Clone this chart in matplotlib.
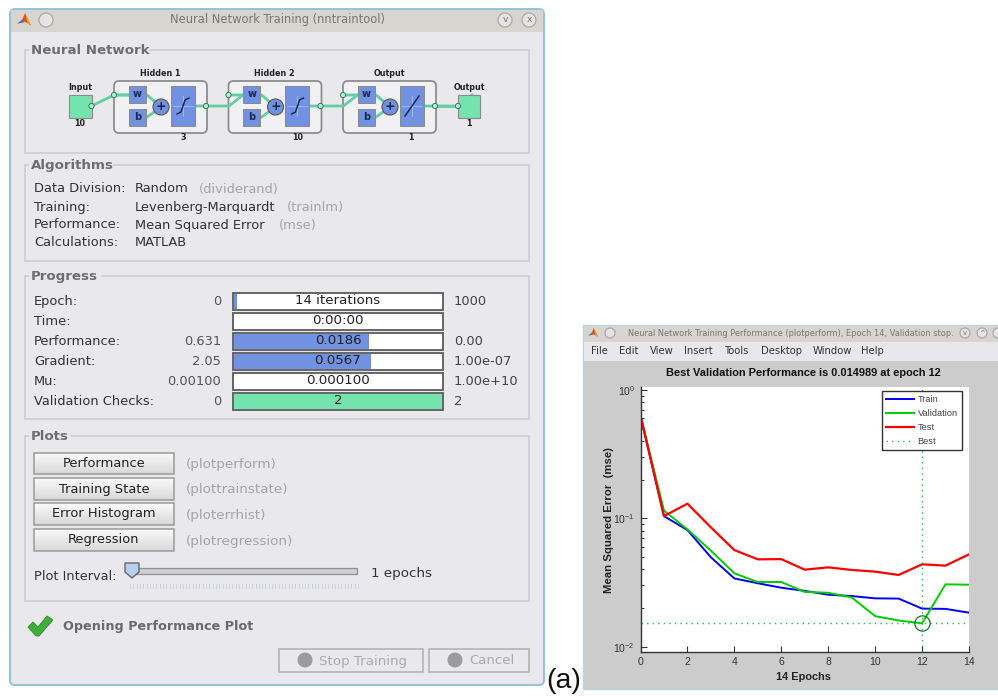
"""Two MATLAB nntool windows: the training dialog and the performance plot."""

import numpy as np
import matplotlib
matplotlib.use("Agg")
import matplotlib.pyplot as plt
from matplotlib.patches import Rectangle, FancyBboxPatch, Circle, Polygon

# performance plot values
epochs = list(range(15))
train_mse = [0.631, 0.104, 0.081, 0.0497, 0.034, 0.0312, 0.0288, 0.0272, 0.0254, 0.0248, 0.0238, 0.0237, 0.0198, 0.0197, 0.0184]
val_mse = [0.631, 0.115, 0.082, 0.056, 0.0373, 0.0319, 0.0319, 0.0267, 0.0263, 0.0242, 0.0173, 0.016, 0.0152, 0.0306, 0.0304]
test_mse = [0.631, 0.104, 0.130, 0.085, 0.0566, 0.0479, 0.0481, 0.0398, 0.0415, 0.0396, 0.0384, 0.0362, 0.0438, 0.0428, 0.0524]
best_epoch = 12
best_mse = 0.0152
menu_items = ["File", "Edit", "View", "Insert", "Tools", "Desktop", "Window", "Help"]
menu_x = [591, 619, 650, 684, 724, 761, 813, 861]

# training dialog text
algo_rows = [
    ("Data Division:", "Random", "(dividerand)", 199),
    ("Training:", "Levenberg-Marquardt", "(trainlm)", 287),
    ("Performance:", "Mean Squared Error", "(mse)", 279),
    ("Calculations:", "MATLAB", "", 0),
]
progress_labels = ["Epoch:", "Time:", "Performance:", "Gradient:", "Mu:", "Validation Checks:"]
progress_start = ["0", "", "0.631", "2.05", "0.00100", "0"]
progress_now = ["14 iterations", "0:00:00", "0.0186", "0.0567", "0.000100", "2"]
progress_end = ["1000", "", "0.00", "1.00e-07", "1.00e+10", "2"]
progress_fill = [0.014, 0.0, 0.65, 0.66, 0.0, 1.0]
plot_buttons = ["Performance", "Training State", "Error Histogram", "Regression"]
plot_funcs = ["(plotperform)", "(plottrainstate)", "(ploterrhist)", "(plotregression)"]

BODY = "#e9e8ec"
BAR = "#d8d5d1"
EDGE = "#cbcbce"
GREEN = "#74e3ae"
BLUE = "#7092e0"
WIRE = "#63cfa0"
BEST = "#22b844"

plt.rcParams["font.family"] = "DejaVu Sans"
fig = plt.figure(figsize=(9.98, 6.96), dpi=100, facecolor="white")
bg = fig.add_axes([0, 0, 1, 1])
bg.set_xlim(0, 998)
bg.set_ylim(696, 0)
bg.axis("off")
bg.set_autoscale_on(False)


def rect(x0, y0, x1, y1, fc="none", ec="none", lw=1.0, z=2):
    bg.add_patch(Rectangle((x0, y0), x1 - x0, y1 - y0, fc=fc, ec=ec, lw=lw, zorder=z))


def label(x, y, s, size=9.4, color="#333333", ha="left", weight="normal", family="DejaVu Sans", z=5):
    bg.text(x, y, s, fontsize=size, color=color, ha=ha, va="center", fontweight=weight, family=family, zorder=z)


def gradient(x0, y0, x1, y1, top, bottom, z=3):
    c0 = np.array(matplotlib.colors.to_rgb(top))
    c1 = np.array(matplotlib.colors.to_rgb(bottom))
    img = np.linspace(0, 1, 24)[:, None, None] * (c1 - c0) + c0
    bg.imshow(img, extent=(x0, x1, y1, y0), aspect="auto", zorder=z, interpolation="bilinear")


def panel(y0, y1, title, title_w):
    rect(25, y0, 529, y1, ec=EDGE, lw=1.1)
    rect(29, y0 - 6, 31 + title_w, y0 + 6, fc=BODY, z=3)
    label(31, y0 + 0.5, title, size=9.6, color="#6e6e6e", weight="bold")


def logo(x, y, s):
    bg.add_patch(Polygon([(x - s, y + 0.55 * s), (x - 0.2 * s, y - 0.1 * s), (x + 0.1 * s, y + 0.3 * s)], fc="#3b6fb5", zorder=6))
    bg.add_patch(Polygon([(x - 0.3 * s, y + 0.1 * s), (x + 0.15 * s, y - s), (x + s, y + 0.8 * s), (x + 0.3 * s, y + 0.35 * s)], fc="#d9531e", zorder=7))
    bg.add_patch(Polygon([(x + 0.15 * s, y - s), (x + s, y + 0.8 * s), (x + 0.5 * s, y + 0.5 * s)], fc="#f0a020", zorder=8))


def win_button(x, y, r, glyph=""):
    bg.add_patch(Circle((x, y), r, fc="#e6e4e2", ec="#a8a8a8", lw=0.9, zorder=6))
    if glyph:
        label(x, y - 0.3, glyph, size=r * 0.95, color="#777777", ha="center", z=7)


# ---- training dialog window
bg.add_patch(FancyBboxPatch((10, 9), 534, 676, boxstyle="round,pad=0,rounding_size=5", fc=BODY, ec="#8fc3df", lw=1.4, zorder=1))
rect(11, 10, 543, 32, fc=BAR, z=1.5)
logo(24, 20, 7)
win_button(46, 20, 7)
win_button(505, 20, 7, "v")
win_button(529, 20, 7, "x")
label(278, 19.5, "Neural Network Training (nntraintool)", size=8.3, color="#777777", ha="center")

panel(50, 153, "Neural Network", 118)
panel(165, 261, "Algorithms", 82)
panel(276, 419, "Progress", 70)
panel(436, 601, "Plots", 40)

# network diagram
bg.plot([91.5, 114, 128], [106, 95, 95], color=WIRE, lw=2, zorder=3)
rect(69, 95, 92, 118, fc=GREEN, ec="#8a8a8a", lw=0.8, z=4)
label(80, 88, "Input", size=5.8, color="#222222", ha="center", weight="bold")
label(80, 123, "10", size=5.8, color="#222222", ha="center", weight="bold")
layer_titles = ["Hidden 1", "Hidden 2", "Output"]
layer_sizes = ["3", "10", "1"]
layer_size_x = [183, 298, 411]
for i, dx in enumerate([0, 114.5, 229]):
    bg.add_patch(FancyBboxPatch((114 + dx, 81), 93, 52, boxstyle="round,pad=0,rounding_size=5", fc="#f1f0f2", ec="#8e8e8e", lw=1.3, zorder=2))
    label(160 + dx, 74, layer_titles[i], size=5.8, color="#222222", ha="center", weight="bold")
    label(layer_size_x[i], 138, layer_sizes[i], size=5.8, color="#222222", ha="center", weight="bold")
    bg.plot([114 + dx, 147 + dx, 160 + dx], [95, 95, 106], color=WIRE, lw=2, zorder=3)
    bg.plot([147 + dx, 160 + dx], [117, 108], color=WIRE, lw=2, zorder=3)
    bg.plot([195 + dx, 229 + dx, 243 + dx], [106, 106, 95], color=WIRE, lw=2, zorder=3)
    for y0, s in [(86, "w"), (109, "b")]:
        rect(129 + dx, y0, 146 + dx, y0 + 17, fc=BLUE, ec="#8a8a8a", lw=0.7, z=4)
        label(137.5 + dx, y0 + 8, s, size=7, color="#1a2a50", ha="center", weight="bold")
    bg.add_patch(Circle((161 + dx, 107), 8, fc=BLUE, ec="#555555", lw=0.8, zorder=4))
    label(161 + dx, 106.5, "+", size=9, color="#16244a", ha="center", weight="bold")
    rect(171 + dx, 86, 195 + dx, 126, fc=BLUE, ec="#8a8a8a", lw=0.7, z=4)
    bg.plot([173 + dx, 193 + dx], [106, 106], color="#a8bcf0", lw=0.6, zorder=5)
    bg.plot([183 + dx, 183 + dx], [96, 116], color="#a8bcf0", lw=0.6, zorder=5)
    if i < 2:
        bg.plot([177 + dx, 181 + dx, 185 + dx, 189 + dx], [114, 112, 100, 98], color="#10204a", lw=1, zorder=6)
    else:
        bg.plot([176 + dx, 190 + dx], [116, 96], color="#10204a", lw=1, zorder=6)
    for nx, ny in [(114 + dx, 95), (206 + dx, 106)]:
        bg.add_patch(Circle((nx, ny), 2.6, fc="#b8ecd2", ec="#2f7f5c", lw=0.7, zorder=7))
bg.plot([435, 458], [106, 106], color=WIRE, lw=2, zorder=3)
rect(458, 95, 480, 118, fc=GREEN, ec="#8a8a8a", lw=0.8, z=4)
bg.add_patch(Circle((91.5, 106), 2.6, fc="#b8ecd2", ec="#2f7f5c", lw=0.7, zorder=7))
bg.add_patch(Circle((458, 106), 2.6, fc="#b8ecd2", ec="#2f7f5c", lw=0.7, zorder=7))
label(469, 88, "Output", size=5.8, color="#222222", ha="center", weight="bold")
label(469, 123, "1", size=5.8, color="#222222", ha="center", weight="bold")

# algorithms
for row, (name, value, func, fx) in enumerate(algo_rows):
    y = 189 + row * 18
    label(34, y, name)
    label(135, y, value)
    if func:
        label(fx, y, func, color="#a4a4a4")

# progress bars
for row in range(6):
    y0 = 293 + row * 20
    yc = y0 + 8.5
    rect(233, y0, 443, y0 + 17, fc="white", ec="#5a5a5a", lw=1.3, z=3)
    if progress_fill[row] > 0:
        color = GREEN if row == 5 else BLUE
        rect(234, y0 + 1, 234 + 208 * progress_fill[row], y0 + 16, fc=color, z=3.5)
    label(34, yc, progress_labels[row])
    label(221, yc, progress_start[row], color="#555555", ha="right")
    label(338, yc - 0.5, progress_now[row], size=9.6, color="#222222", ha="center")
    label(454, yc, progress_end[row], color="#444444")

# plot buttons
for i, (y0, y1) in enumerate([(453, 474), (478, 500), (503, 525), (529, 551)]):
    gradient(34, y0, 174, y1, "#fafafa", "#d8d8d8")
    rect(34, y0, 174, y1, ec="#9a9a9a", lw=1.1, z=4)
    label(104, (y0 + y1) / 2, plot_buttons[i], color="#222222", ha="center")
    label(186, (y0 + y1) / 2 + 1, plot_funcs[i], size=9.7, color="#a4a4a4")

# plot interval slider
label(34, 576, "Plot Interval:", size=9.3)
rect(133, 568, 357, 574, fc="#d0d0d2", ec="#909090", lw=0.9)
bg.add_patch(Polygon([(125, 563), (139, 563), (139, 572), (132, 578), (125, 572)], fc="#b7d0ee", ec="#666666", lw=1, zorder=5))
for tx in np.linspace(130, 358, 70):
    bg.plot([tx, tx], [584, 588], color="#c9d6e6", lw=0.7, zorder=3)
label(371, 574, "1 epochs", size=9.7, color="#333333")

# status line
bg.add_patch(Polygon([(28, 627), (33, 622), (38, 627), (47, 616), (53, 620), (39, 636), (36, 636)], fc="#3fae3c", ec="#2e8a2c", lw=0.6, zorder=5))
label(63, 626.5, "Opening Performance Plot", size=9.2, color="#6a6a6a", weight="bold")
rect(279, 649, 423, 672, ec="#b0b0b0", lw=1.1)
rect(429, 649, 529, 672, ec="#b0b0b0", lw=1.1)
bg.add_patch(Circle((305, 660), 7.5, fc="#9c9c9c", zorder=4))
bg.add_patch(Circle((455, 660), 7.5, fc="#9c9c9c", zorder=4))
label(319, 661, "Stop Training", size=9.6, color="#aaaaaa")
label(469, 661, "Cancel", size=9.5, color="#aaaaaa")
label(546, 681, "(a)", size=20.5, color="#111111", family="Liberation Sans")

# ---- performance window
rect(583, 325, 999, 689, fc="#cccccc", ec="#b8d4e4", lw=1.0, z=1)
rect(584, 326, 999, 342, fc=BAR, z=1.5)
rect(584, 342, 999, 361, fc="#e8e8ec", z=1.5)
logo(593, 333, 5)
win_button(610, 333, 5)
win_button(965, 333, 5, "v")
win_button(982, 333, 5, "^")
win_button(998, 333, 5)
label(628, 333, "Neural Network Training Performance (plotperform), Epoch 14, Validation stop.", size=5.98, color="#777777")
for s, x in zip(menu_items, menu_x):
    label(x, 351, s, size=7.2, color="#333333")

# performance plot on real log axes
W, H = 998.0, 696.0
left, right, top, bottom = 640.5, 969.0, 386.7, 651.7
ax = fig.add_axes([left / W, 1 - bottom / H, (right - left) / W, (bottom - top) / H])
ax.set_facecolor("white")
ax.semilogy(epochs, train_mse, color="#0000ff", lw=1.4, label="Train")
ax.semilogy(epochs, val_mse, color="#00cc00", lw=1.4, label="Validation")
ax.semilogy(epochs, test_mse, color="#ff0000", lw=1.6, label="Test")
ax.axvline(best_epoch, color=BEST, lw=1.0, ls=(0, (1, 3)), label="Best")
ax.axhline(best_mse, color=BEST, lw=1.0, ls=(0, (1, 3)))
ax.plot([best_epoch], [best_mse], "o", mfc="none", mec="#0a7a2a", mew=0.9, ms=11)
ax.set_xlim(0, 14)
ax.set_ylim(10 ** -2.039, 10 ** 0.025)
ax.set_xticks(range(0, 15, 2))
ax.tick_params(axis="both", which="major", direction="in", length=4, width=0.8, labelsize=7.5, colors="#333333", pad=4)
ax.tick_params(axis="y", which="minor", direction="in", length=2.5, width=0.7, colors="#333333", labelleft=False)
for side in ["top", "right"]:
    ax.spines[side].set_visible(False)
for side in ["left", "bottom"]:
    ax.spines[side].set_color("#333333")
    ax.spines[side].set_linewidth(1.0)
for tl in ax.get_xticklabels() + ax.get_yticklabels():
    tl.set_family("Liberation Sans")
ax.legend(loc="upper left", bbox_to_anchor=((881.7 - left) / (right - left), 1 - (391 - top) / (bottom - top)),
          borderaxespad=0, fancybox=False, framealpha=1, edgecolor="#333333", labelspacing=0.55,
          handlelength=3.0, handletextpad=0.45, borderpad=0.42, prop={"family": "Liberation Sans", "size": 6.7}, labelcolor="#444444")

label(803.7, 372.5, "Best Validation Performance is 0.014989 at epoch 12", size=7.95, color="#111111", ha="center", weight="bold", family="Liberation Sans")
label(803.5, 677, "14 Epochs", size=7.9, color="#222222", ha="center", weight="bold", family="Liberation Sans")
bg.text(609, 520, "Mean Squared Error  (mse)", fontsize=8.2, color="#222222", ha="center", va="center", rotation=90, fontweight="bold", family="Liberation Sans", zorder=5)

fig.savefig("out.png", dpi=100)
plt.close(fig)
